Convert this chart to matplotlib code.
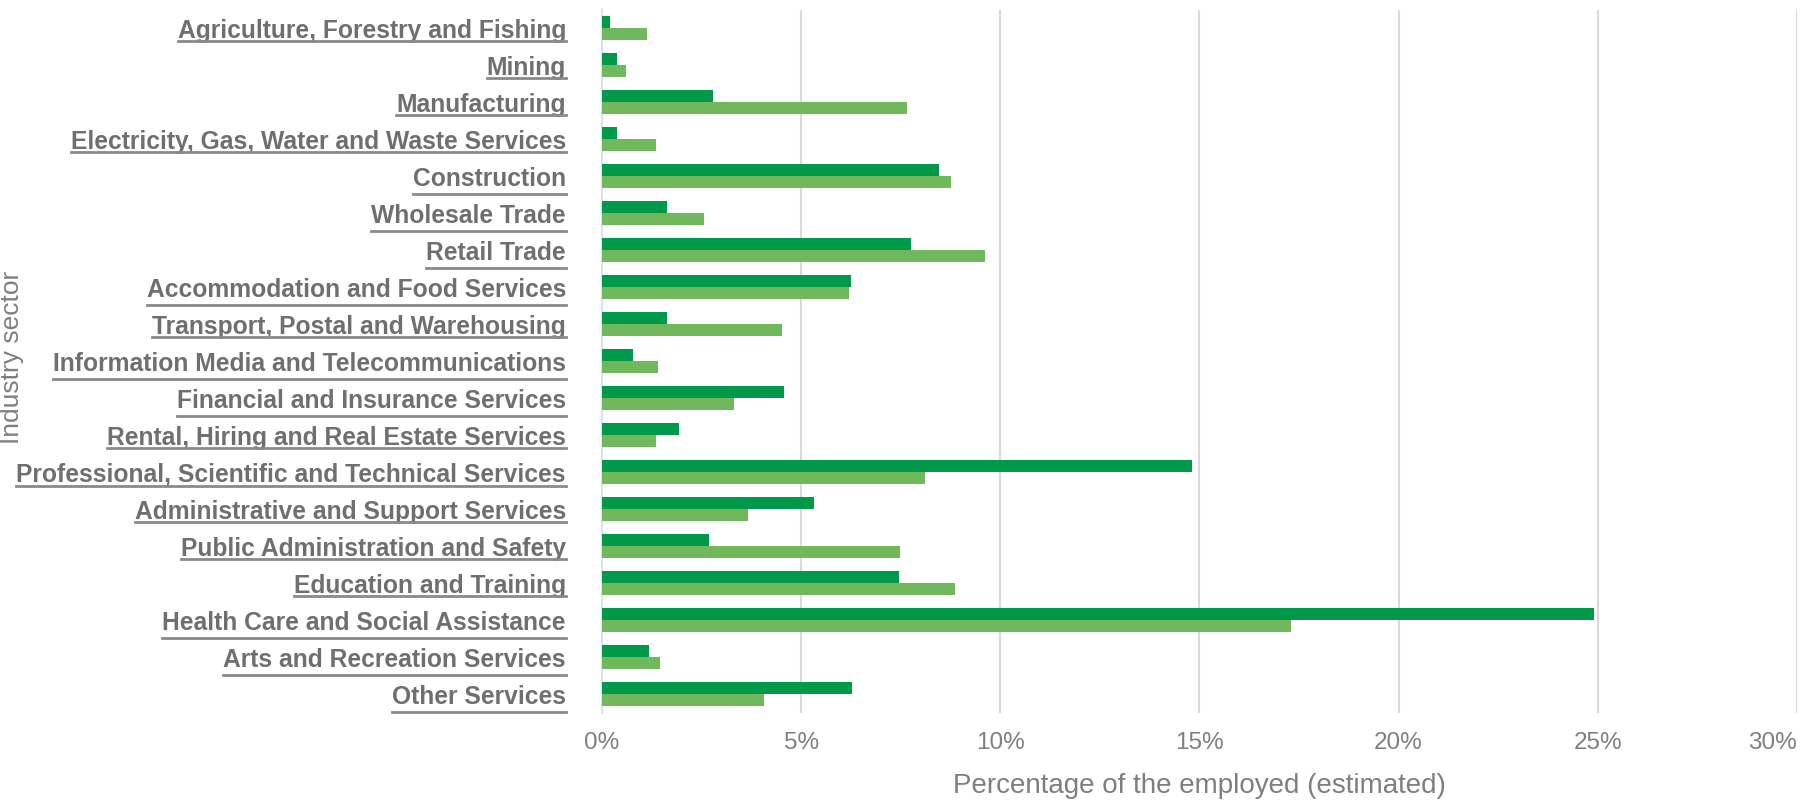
import numpy as np
import matplotlib
matplotlib.use('Agg')
import matplotlib.pyplot as plt
from matplotlib.lines import Line2D
from matplotlib.ticker import PercentFormatter

sectors = ['Agriculture, Forestry and Fishing', 'Mining', 'Manufacturing',
           'Electricity, Gas, Water and Waste Services', 'Construction',
           'Wholesale Trade', 'Retail Trade', 'Accommodation and Food Services',
           'Transport, Postal and Warehousing',
           'Information Media and Telecommunications',
           'Financial and Insurance Services',
           'Rental, Hiring and Real Estate Services',
           'Professional, Scientific and Technical Services',
           'Administrative and Support Services',
           'Public Administration and Safety', 'Education and Training',
           'Health Care and Social Assistance', 'Arts and Recreation Services',
           'Other Services']
dark_vals = [0.2, 0.37, 2.79, 0.37, 8.46, 1.64, 7.77, 6.26, 1.64, 0.77,
             4.58, 1.93, 14.8, 5.32, 2.69, 7.46, 24.9, 1.17, 6.28]
light_vals = [1.12, 0.6, 7.65, 1.36, 8.75, 2.56, 9.61, 6.2, 4.52, 1.41,
              3.31, 1.36, 8.11, 3.66, 7.48, 8.86, 17.3, 1.45, 4.06]
xticks = [0, 5, 10, 15, 20, 25, 30]

DARK = '#00994A'
LIGHT = '#70B85C'
GREY = '#7F7F7F'

plt.rcParams['font.family'] = ['Liberation Sans', 'DejaVu Sans']

fig = plt.figure(figsize=(18.16, 8.06), dpi=100)
ax = fig.add_axes([0.3315, 0.116, 0.658, 0.872])

y = np.arange(len(sectors))
h = 0.32
ax.barh(y - h / 2, dark_vals, height=h, color=DARK, zorder=3)
ax.barh(y + h / 2, light_vals, height=h, color=LIGHT, zorder=3)

ax.set_ylim(len(sectors) - 0.5, -0.5)
ax.set_xlim(0, 30)
ax.set_xticks(xticks)
ax.xaxis.set_major_formatter(PercentFormatter(decimals=0))
ax.grid(axis='x', color='#D9D9D9', linewidth=1.5, zorder=0)
for s in ['top', 'right', 'bottom']:
    ax.spines[s].set_visible(False)
ax.spines['left'].set_color('#DCE3EC')
ax.spines['left'].set_linewidth(1.5)

ax.set_yticks(y)
ax.set_yticklabels(sectors, fontsize=17.7, fontweight='bold', color='#6F6F6F')
ax.tick_params(axis='y', length=0, pad=26)
ax.tick_params(axis='x', length=0, pad=14, labelsize=17.5, labelcolor=GREY)
ax.get_xticklabels()[-1].set_horizontalalignment('right')

ax.set_xlabel('Percentage of the employed (estimated)', fontsize=20,
              color=GREY, labelpad=14)
ax.set_ylabel('Industry sector', fontsize=19, color=GREY)
ax.yaxis.set_label_coords(-0.484, 0.505)

# underline the sector names
fig.canvas.draw()
r = fig.canvas.get_renderer()
for lab in ax.get_yticklabels():
    bb = lab.get_window_extent(r)
    _, _, d = r.get_text_width_height_descent(lab.get_text(),
                                              lab.get_fontproperties(), False)
    yb = bb.y0 + d - 3
    fig.add_artist(Line2D([bb.x0, bb.x1], [yb, yb], transform=None,
                          color='#8A8A8A', linewidth=2))

fig.savefig('out.png', dpi=100)
